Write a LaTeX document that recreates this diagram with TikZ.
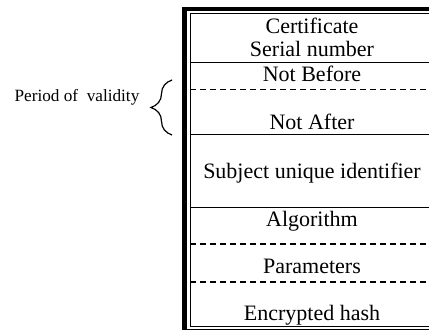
\documentclass[tikz,border=0pt]{standalone}
\usepackage{fontspec}
\setmainfont{Liberation Serif}
\usetikzlibrary{decorations.pathreplacing}
\newcommand{\cellfont}{\fontsize{11}{13}\selectfont}
\tikzset{
  cell/.style={anchor=base,inner sep=0pt,font=\cellfont},
  rowline/.style={line width=0.5pt},
  halfline/.style={line width=0.6pt,dash pattern=on 3.2pt off 1.8pt}
}

\begin{document}
\begin{tikzpicture}[x=0.5pt,y=-0.5pt]
  \useasboundingbox (0,0) rectangle (429,332);
  \clip (0,0) rectangle (429,332);
  % frame
  \draw[line width=2.3pt] (184.5,329.5) -- (184.5,9) -- (445,9);
  \draw[line width=0.6pt] (182,329.5) -- (445,329.5);
  \draw[rowline] (190,326.5) rectangle (445,13);
  % rows
  \draw[rowline] (190,62) -- (445,62);
  \draw[halfline] (190,89.5) -- (445,89.5);
  \draw[rowline] (190,134.5) -- (445,134.5);
  \draw[rowline] (190,207.5) -- (445,207.5);
  \draw[halfline] (190,244) -- (445,244);
  \draw[halfline] (190,282) -- (445,282);
  % texts
  \node[cell] (cert) at (312,33) {Certificate};
  \node[cell] (serial) at (312,56) {Serial number};
  \node[cell] (before) at (312,82) {Not Before};
  \node[cell] (after) at (312,129) {Not After};
  \node[cell] (subject) at (312,178) {Subject unique identifier};
  \node[cell] (algo) at (312,226) {Algorithm};
  \node[cell] (params) at (312,273) {Parameters};
  \node[cell] (hash) at (312,320) {Encrypted hash};
  % validity
  \node[cell,font=\fontsize{8.6}{10}\selectfont] (period) at (77,101) {Period of\ \ validity};
  \draw[line width=0.6pt,decorate,decoration={brace,amplitude=10.5pt}] (172,135) -- (172,80);
\end{tikzpicture}
\end{document}
